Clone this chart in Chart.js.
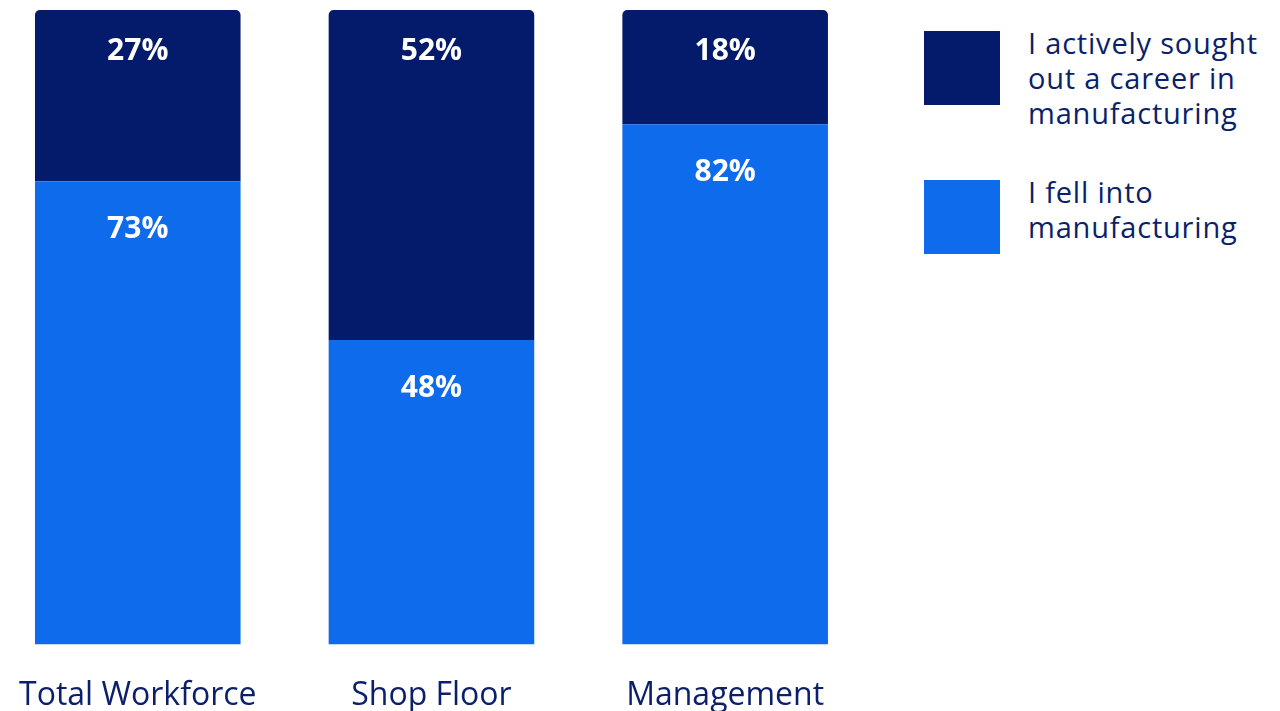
<!DOCTYPE html>
<html>
<head>
<meta charset="utf-8">
<script src="https://cdn.jsdelivr.net/npm/chart.js@4/dist/chart.umd.min.js"></script>
<style>
  html, body { margin: 0; padding: 0; background: #ffffff; width: 1280px; height: 711px; overflow: hidden; }
  #wrap { position: absolute; left: -13px; top: 0; width: 885px; height: 747px; }
  #legend { position: absolute; left: 924px; top: 0; font-family: "Open Sans", "Noto Sans", sans-serif; color: #0b1f6b; font-size: 29px; line-height: 35px; letter-spacing: 0.8px; }
  .item { position: absolute; left: 0; white-space: nowrap; }
  .swatch { position: absolute; left: 0; width: 76px; height: 74px; }
  .text { position: absolute; left: 104px; }
</style>
</head>
<body>
<div id="wrap"><canvas id="chart"></canvas></div>
<div id="legend"></div>
<script>
const categories = ["Total Workforce", "Shop Floor", "Management"];
const soughtOut = [27, 52, 18];
const fellInto = [73, 48, 82];
const seriesNames = [["I actively sought", "out a career in", "manufacturing"], ["I fell into", "manufacturing"]];
const colors = ["#041a6a", "#0e6beb"];

const FONT = '"Open Sans", "Noto Sans", sans-serif';
const TEXT = "#0b1f6b";

// White percentage labels near the top of each segment
const segmentLabels = {
  id: "segmentLabels",
  afterDatasetsDraw(chart) {
    const ctx = chart.ctx;
    ctx.save();
    ctx.fillStyle = "#ffffff";
    ctx.font = "bold 30px " + FONT;
    ctx.textAlign = "center";
    ctx.textBaseline = "middle";
    chart.data.datasets.forEach((ds, di) => {
      const meta = chart.getDatasetMeta(di);
      const off = ds.labelOffset;
      meta.data.forEach((bar, i) => {
        const top = Math.min(bar.y, bar.base);
        ctx.fillText(ds.data[i] + "%", bar.x, top + off);
      });
    });
    ctx.restore();
  }
};

new Chart(document.getElementById("chart"), {
  type: "bar",
  data: {
    labels: categories,
    datasets: [
      // first dataset sits at the bottom of each stack
      { label: seriesNames[1].join(" "), data: fellInto, backgroundColor: colors[1], borderWidth: 0,
        barPercentage: 0.7, categoryPercentage: 1, labelOffset: 48 },
      { label: seriesNames[0].join(" "), data: soughtOut, backgroundColor: colors[0], borderWidth: 0,
        barPercentage: 0.7, categoryPercentage: 1, labelOffset: 41,
        borderRadius: { topLeft: 5, topRight: 5, bottomLeft: 0, bottomRight: 0 }, borderSkipped: false }
    ]
  },
  options: {
    responsive: true,
    maintainAspectRatio: false,
    animation: false,
    layout: { padding: { top: 10, left: 0, right: 0, bottom: 0 } },
    plugins: { legend: { display: false }, tooltip: { enabled: false } },
    scales: {
      x: {
        stacked: true,
        grid: { display: false, drawTicks: false },
        border: { display: false },
        ticks: { color: TEXT, font: { family: FONT, size: 32 }, padding: 32, maxRotation: 0 }
      },
      y: {
        stacked: true,
        min: 0, max: 100,
        display: false
      }
    }
  },
  plugins: [segmentLabels]
});

// Legend built from the series names and colours
const legend = document.getElementById("legend");
const tops = [31, 180];
[0, 1].forEach(k => {
  const item = document.createElement("div");
  item.className = "item";
  item.style.top = tops[k] + "px";
  const sw = document.createElement("div");
  sw.className = "swatch";
  sw.style.background = colors[k];
  const tx = document.createElement("div");
  tx.className = "text";
  tx.style.top = "-6px";
  tx.innerHTML = seriesNames[k].join("<br>");
  item.appendChild(sw);
  item.appendChild(tx);
  legend.appendChild(item);
});
</script>
</body>
</html>
